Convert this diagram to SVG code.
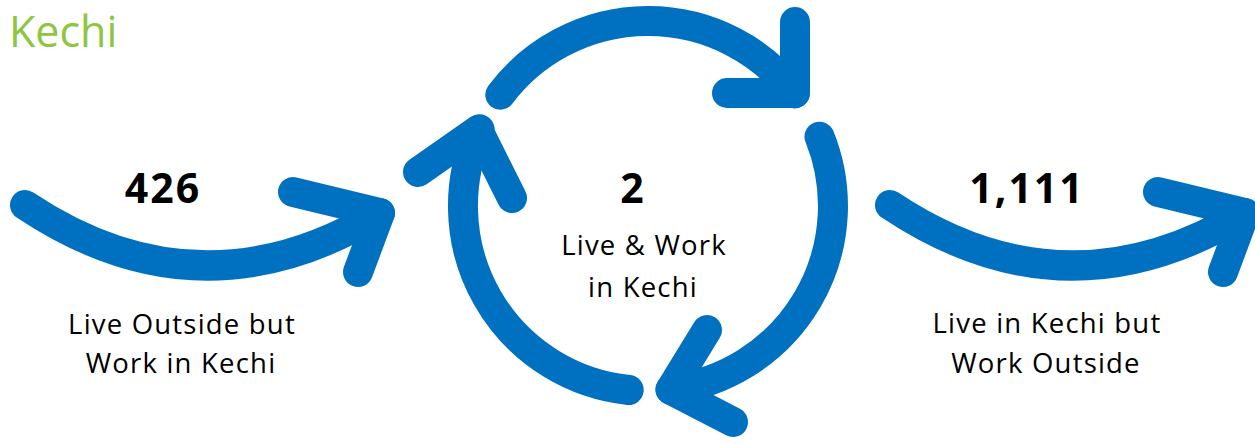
<svg xmlns="http://www.w3.org/2000/svg" width="1255" height="445" viewBox="0 0 1255 445">
<style>
.a{fill:none;stroke:#0070C0;stroke-width:30;stroke-linecap:round;stroke-linejoin:round}
.t{font-family:"Open Sans","Noto Sans",sans-serif;fill:#000;text-anchor:middle}
.n{font-size:41px;font-weight:bold;letter-spacing:2px}
.l{font-size:27.5px;letter-spacing:1.2px}
</style>
<rect width="1255" height="445" fill="#fff"/>
<text x="9" y="47" font-family="'Open Sans','Noto Sans',sans-serif" font-size="43" fill="#8DC63F">Kechi</text>
<g id="connectors">
<g id="arrow-in"><path class="a" d="M25,205 Q200,322 380,213"/><path class="a" d="M293,192 L380,213 L358,272"/></g>
<g id="arrow-out"><path class="a" d="M890,205 Q1065,322 1245,213"/><path class="a" d="M1158,192 L1245,213 L1223,272"/></g>
<g id="cycle">
<path class="a" d="M500.3,94.7 A185,185 0 0 1 794.8,93.4"/><path class="a" d="M795,22 L795,93 L727,93"/>
<path class="a" d="M819.5,136.7 A185,185 0 0 1 670.5,389.6"/><path class="a" d="M707,330 L670.5,389.6 L733,422"/>
<path class="a" d="M628.7,390 A185,185 0 0 1 479.6,129.3"/><path class="a" d="M418,172 L478,130 L512,198"/>
</g>
</g>
<g id="node-in"><text class="t n" x="163" y="203">426</text><text class="t l" x="182" y="334">Live Outside but</text><text class="t l" x="181" y="373">Work in Kechi</text></g>
<g id="node-center"><text class="t n" x="633" y="203">2</text><text class="t l" x="644" y="255">Live &amp; Work</text><text class="t l" x="643" y="297">in Kechi</text></g>
<g id="node-out"><text class="t n" x="1027" y="203">1,111</text><text class="t l" x="1047" y="333">Live in Kechi but</text><text class="t l" x="1046" y="373">Work Outside</text></g>
</svg>
